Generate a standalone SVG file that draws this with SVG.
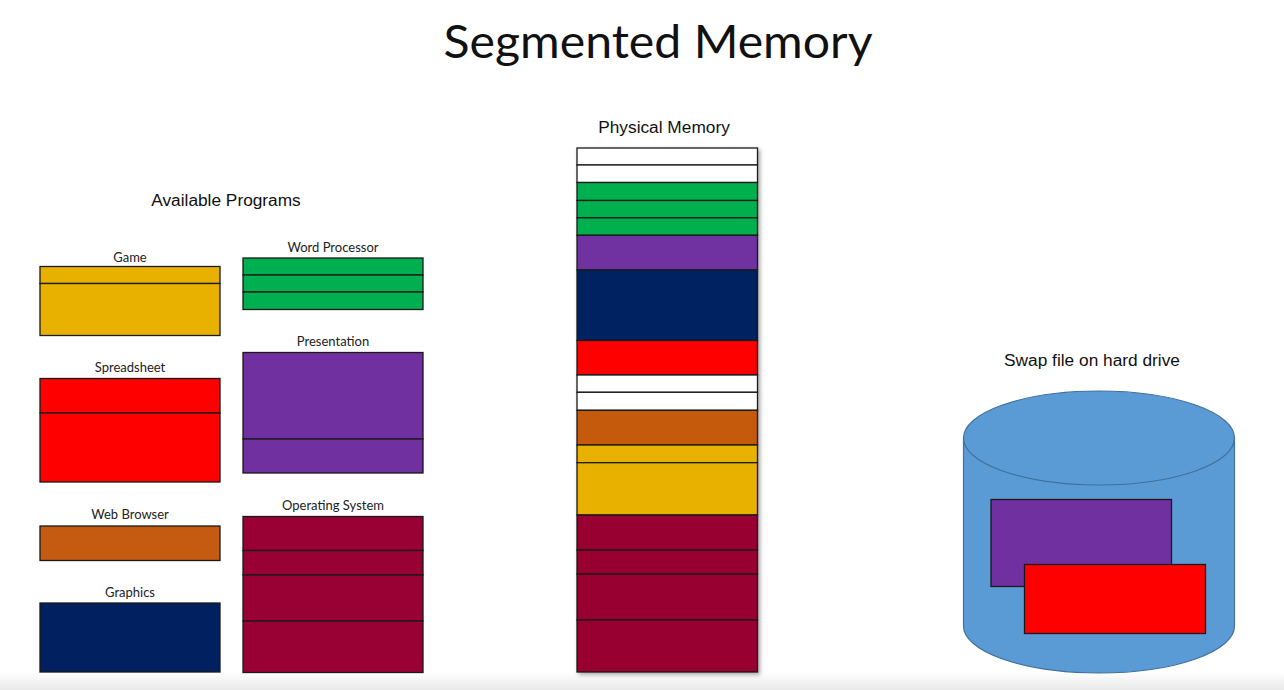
<svg xmlns="http://www.w3.org/2000/svg" width="1284" height="690" viewBox="0 0 1284 690">
  <style>
    .seg { stroke: #1a1a1a; stroke-width: 1.3; }
    .lbl { font-family: Lato, "Open Sans", sans-serif; font-size: 13px; fill: #222; text-anchor: middle; }
    .hdr { font-family: "Liberation Sans", Arial, sans-serif; font-size: 17.3px; fill: #111; text-anchor: middle; }
    .white { fill: #ffffff; }
    .yellow { fill: #E8B100; }
    .green { fill: #00B050; }
    .purple { fill: #7030A0; }
    .navy { fill: #002060; }
    .red { fill: #FF0000; }
    .orange { fill: #C55A11; }
    .crimson { fill: #990033; }
    .disk { fill: #5B9BD5; stroke: #41719C; stroke-width: 1.2; }
  </style>
  <defs>
    <linearGradient id="floor" x1="0" y1="0" x2="0" y2="1">
      <stop offset="0" stop-color="#ffffff"/>
      <stop offset="1" stop-color="#e9e9e9"/>
    </linearGradient>
    <filter id="shadow" x="-10%" y="-5%" width="125%" height="115%">
      <feGaussianBlur in="SourceAlpha" stdDeviation="2"/>
      <feOffset dx="2" dy="2" result="b"/>
      <feComponentTransfer><feFuncA type="linear" slope="0.35"/></feComponentTransfer>
      <feMerge><feMergeNode/><feMergeNode in="SourceGraphic"/></feMerge>
    </filter>
  </defs>

  <rect width="1284" height="690" fill="#ffffff"/>
  <rect x="0" y="672" width="1284" height="18" fill="url(#floor)"/>

  <text id="title" x="658" y="58" font-family="Lato, 'Open Sans', sans-serif" font-size="46" fill="#111" text-anchor="middle" textLength="429" lengthAdjust="spacingAndGlyphs">Segmented Memory</text>

  <!-- Program list -->
  <text id="programs-heading" class="hdr" x="226" y="206">Available Programs</text>

  <g id="game">
    <text class="lbl" x="130" y="262">Game</text>
    <rect class="seg yellow" x="40" y="266.5" width="180" height="17"/>
    <rect class="seg yellow" x="40" y="283.5" width="180" height="52"/>
  </g>

  <g id="word-processor">
    <text class="lbl" x="333" y="252">Word Processor</text>
    <rect class="seg green" x="243" y="258" width="180" height="17"/>
    <rect class="seg green" x="243" y="275" width="180" height="17"/>
    <rect class="seg green" x="243" y="292" width="180" height="17.5"/>
  </g>

  <g id="spreadsheet">
    <text class="lbl" x="130" y="372">Spreadsheet</text>
    <rect class="seg red" x="40" y="378.5" width="180" height="34.5"/>
    <rect class="seg red" x="40" y="413" width="180" height="69"/>
  </g>

  <g id="presentation">
    <text class="lbl" x="333" y="346">Presentation</text>
    <rect class="seg purple" x="243" y="352.5" width="180" height="86.5"/>
    <rect class="seg purple" x="243" y="439" width="180" height="34"/>
  </g>

  <g id="web-browser">
    <text class="lbl" x="130" y="519">Web Browser</text>
    <rect class="seg orange" x="40" y="526" width="180" height="34.5"/>
  </g>

  <g id="graphics">
    <text class="lbl" x="130" y="597">Graphics</text>
    <rect class="seg navy" x="40" y="603" width="180" height="69"/>
  </g>

  <g id="operating-system">
    <text class="lbl" x="333" y="510">Operating System</text>
    <rect class="seg crimson" x="243" y="516.5" width="180" height="34"/>
    <rect class="seg crimson" x="243" y="550.5" width="180" height="24.5"/>
    <rect class="seg crimson" x="243" y="575" width="180" height="46"/>
    <rect class="seg crimson" x="243" y="621" width="180" height="51.5"/>
  </g>

  <!-- Physical memory column -->
  <g id="physical-memory">
    <text class="hdr" x="664" y="133">Physical Memory</text>
    <g filter="url(#shadow)">
      <rect class="seg white" x="577" y="148" width="180.5" height="17"/>
      <rect class="seg white" x="577" y="165" width="180.5" height="17.5"/>
      <rect class="seg green" x="577" y="182.5" width="180.5" height="18"/>
      <rect class="seg green" x="577" y="200.5" width="180.5" height="17.3"/>
      <rect class="seg green" x="577" y="217.8" width="180.5" height="17.5"/>
      <rect class="seg purple" x="577" y="235.3" width="180.5" height="34.7"/>
      <rect class="seg navy" x="577" y="270" width="180.5" height="70.5"/>
      <rect class="seg red" x="577" y="340.5" width="180.5" height="34.5"/>
      <rect class="seg white" x="577" y="375" width="180.5" height="17.3"/>
      <rect class="seg white" x="577" y="392.3" width="180.5" height="18"/>
      <rect class="seg orange" x="577" y="410.3" width="180.5" height="34.7"/>
      <rect class="seg yellow" x="577" y="445" width="180.5" height="17.7"/>
      <rect class="seg yellow" x="577" y="462.7" width="180.5" height="52.3"/>
      <rect class="seg crimson" x="577" y="515" width="180.5" height="35"/>
      <rect class="seg crimson" x="577" y="550" width="180.5" height="24"/>
      <rect class="seg crimson" x="577" y="574" width="180.5" height="46"/>
      <rect class="seg crimson" x="577" y="620" width="180.5" height="52"/>
    </g>
  </g>

  <!-- Swap file on disk -->
  <g id="swap-drive">
    <text class="hdr" x="1092" y="366">Swap file on hard drive</text>
    <path class="disk" d="M963.5 438 L963.5 626 A135.5 47 0 0 0 1234.5 626 L1234.5 438"/>
    <ellipse class="disk" cx="1099" cy="438" rx="135.5" ry="47"/>
    <rect class="seg purple" x="991" y="499.5" width="180.5" height="87"/>
    <rect class="seg red" x="1024.5" y="564.5" width="181" height="69"/>
  </g>

  <g id="connectors"/>
</svg>
